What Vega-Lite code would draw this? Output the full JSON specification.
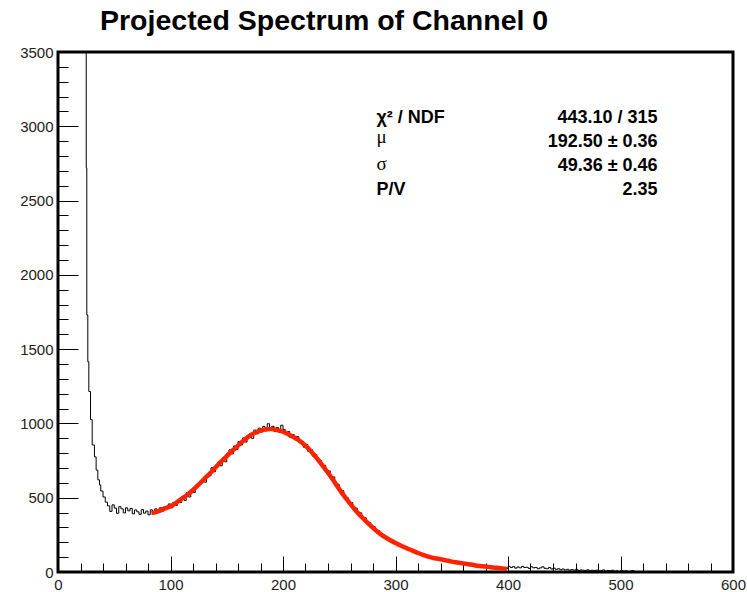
{
  "$schema": "https://vega.github.io/schema/vega-lite/v6.json",
  "width": 675,
  "height": 520,
  "autosize": {"type": "none"},
  "padding": {"left": 58, "top": 52, "right": 14, "bottom": 20},
  "background": "white",
  "config": {
    "view": {"stroke": "black", "strokeWidth": 3},
    "font": "Liberation Sans",
    "axis": {"grid": false, "domain": false, "title": null, "tickColor": "black", "tickWidth": 1, "labelFont": "Liberation Sans", "labelFontSize": 15, "labelColor": "#222", "format": "d"}
  },
  "title": {
    "text": "Projected Spectrum of Channel 0",
    "anchor": "start",
    "frame": "group",
    "dx": 42,
    "fontSize": 28.5,
    "fontWeight": "bold",
    "font": "Liberation Sans",
    "color": "black",
    "offset": 10
  },
  "datasets": {
    "hist": [
      {"x": 0, "c": 5000}, {"x": 25.1, "c": 2720}, {"x": 25.6, "c": 1730},
      {"x": 26.5, "c": 1415}, {"x": 27.4, "c": 1215}, {"x": 28.9, "c": 1025}, {"x": 30.4, "c": 855},
      {"x": 32.4, "c": 775}, {"x": 33.9, "c": 686}, {"x": 35.4, "c": 620}, {"x": 36.9, "c": 586},
      {"x": 38, "c": 545}, {"x": 40, "c": 505}, {"x": 42, "c": 470}, {"x": 44, "c": 445},
      {"x": 46, "c": 408}, {"x": 48, "c": 452}, {"x": 50, "c": 430}, {"x": 52, "c": 395},
      {"x": 54, "c": 440}, {"x": 56, "c": 425}, {"x": 58, "c": 398}, {"x": 60, "c": 432},
      {"x": 62, "c": 412}, {"x": 64, "c": 428}, {"x": 66, "c": 392}, {"x": 68, "c": 418},
      {"x": 70, "c": 405}, {"x": 72, "c": 388}, {"x": 74, "c": 420}, {"x": 76, "c": 396},
      {"x": 78, "c": 410}, {"x": 80, "c": 385}, {"x": 82, "c": 418}, {"x": 84, "c": 400},
      {"x": 86, "c": 425}, {"x": 88, "c": 405}, {"x": 90, "c": 432}, {"x": 92, "c": 410},
      {"x": 94, "c": 440}, {"x": 96, "c": 425}, {"x": 98, "c": 458}, {"x": 100, "c": 432},
      {"x": 102, "c": 468}, {"x": 104, "c": 448}, {"x": 106, "c": 485}, {"x": 108, "c": 468},
      {"x": 110, "c": 508}, {"x": 112, "c": 482}, {"x": 114, "c": 535}, {"x": 116, "c": 505},
      {"x": 118, "c": 552}, {"x": 120, "c": 535}, {"x": 122, "c": 580}, {"x": 124, "c": 585},
      {"x": 126, "c": 608}, {"x": 128, "c": 612}, {"x": 130, "c": 605}, {"x": 132, "c": 655},
      {"x": 134, "c": 648}, {"x": 136, "c": 702}, {"x": 138, "c": 675}, {"x": 140, "c": 720},
      {"x": 142, "c": 740}, {"x": 144, "c": 715}, {"x": 146, "c": 768}, {"x": 148, "c": 742},
      {"x": 150, "c": 798}, {"x": 152, "c": 822}, {"x": 154, "c": 795}, {"x": 156, "c": 848},
      {"x": 158, "c": 825}, {"x": 160, "c": 878}, {"x": 162, "c": 855}, {"x": 164, "c": 902},
      {"x": 166, "c": 875}, {"x": 168, "c": 918}, {"x": 170, "c": 930}, {"x": 172, "c": 900},
      {"x": 174, "c": 955}, {"x": 176, "c": 930}, {"x": 178, "c": 968}, {"x": 180, "c": 942},
      {"x": 182, "c": 980}, {"x": 184, "c": 950}, {"x": 186, "c": 998}, {"x": 188, "c": 958},
      {"x": 190, "c": 980}, {"x": 192, "c": 945}, {"x": 194, "c": 972}, {"x": 196, "c": 940},
      {"x": 198, "c": 988}, {"x": 200, "c": 958}, {"x": 202, "c": 925}, {"x": 204, "c": 945},
      {"x": 206, "c": 905}, {"x": 208, "c": 925}, {"x": 210, "c": 890}, {"x": 212, "c": 912},
      {"x": 214, "c": 872}, {"x": 216, "c": 880}, {"x": 218, "c": 840}, {"x": 220, "c": 858},
      {"x": 222, "c": 812}, {"x": 224, "c": 825}, {"x": 226, "c": 780}, {"x": 228, "c": 792},
      {"x": 230, "c": 748}, {"x": 232, "c": 752}, {"x": 234, "c": 715}, {"x": 236, "c": 718},
      {"x": 238, "c": 675}, {"x": 240, "c": 680}, {"x": 242, "c": 635}, {"x": 244, "c": 640},
      {"x": 246, "c": 595}, {"x": 248, "c": 590}, {"x": 250, "c": 548}, {"x": 252, "c": 548},
      {"x": 254, "c": 505}, {"x": 256, "c": 500}, {"x": 258, "c": 465}, {"x": 260, "c": 468},
      {"x": 262, "c": 425}, {"x": 264, "c": 430}, {"x": 266, "c": 392}, {"x": 268, "c": 398},
      {"x": 270, "c": 360}, {"x": 272, "c": 365}, {"x": 274, "c": 330}, {"x": 276, "c": 332},
      {"x": 278, "c": 300}, {"x": 280, "c": 305}, {"x": 282, "c": 272}, {"x": 284, "c": 278},
      {"x": 286, "c": 250}, {"x": 288, "c": 252}, {"x": 290, "c": 228}, {"x": 292, "c": 232},
      {"x": 294, "c": 208}, {"x": 296, "c": 215}, {"x": 298, "c": 192}, {"x": 300, "c": 198},
      {"x": 302, "c": 178}, {"x": 304, "c": 182}, {"x": 306, "c": 165}, {"x": 308, "c": 168},
      {"x": 310, "c": 150}, {"x": 312, "c": 156}, {"x": 314, "c": 138}, {"x": 316, "c": 142},
      {"x": 318, "c": 124}, {"x": 320, "c": 130}, {"x": 322, "c": 114}, {"x": 324, "c": 118},
      {"x": 326, "c": 104}, {"x": 328, "c": 106}, {"x": 330, "c": 92}, {"x": 332, "c": 100},
      {"x": 334, "c": 86}, {"x": 336, "c": 94}, {"x": 338, "c": 80}, {"x": 340, "c": 88},
      {"x": 342, "c": 76}, {"x": 344, "c": 82}, {"x": 346, "c": 70}, {"x": 348, "c": 76},
      {"x": 350, "c": 64}, {"x": 352, "c": 70}, {"x": 354, "c": 60}, {"x": 356, "c": 65},
      {"x": 358, "c": 54}, {"x": 360, "c": 62}, {"x": 362, "c": 50}, {"x": 364, "c": 56},
      {"x": 366, "c": 45}, {"x": 368, "c": 51}, {"x": 370, "c": 41}, {"x": 372, "c": 47},
      {"x": 374, "c": 37}, {"x": 376, "c": 43}, {"x": 378, "c": 34}, {"x": 380, "c": 39},
      {"x": 382, "c": 30}, {"x": 384, "c": 35}, {"x": 386, "c": 28}, {"x": 388, "c": 32},
      {"x": 390, "c": 25}, {"x": 392, "c": 30}, {"x": 394, "c": 23}, {"x": 396, "c": 28},
      {"x": 398, "c": 22}, {"x": 400, "c": 38}, {"x": 402, "c": 30}, {"x": 404, "c": 36},
      {"x": 406, "c": 26}, {"x": 408, "c": 34}, {"x": 410, "c": 28}, {"x": 412, "c": 38},
      {"x": 414, "c": 30}, {"x": 416, "c": 32}, {"x": 418, "c": 24}, {"x": 420, "c": 35},
      {"x": 422, "c": 28}, {"x": 424, "c": 30}, {"x": 426, "c": 22}, {"x": 428, "c": 28},
      {"x": 430, "c": 35}, {"x": 432, "c": 25}, {"x": 434, "c": 22}, {"x": 436, "c": 30},
      {"x": 438, "c": 20}, {"x": 440, "c": 26}, {"x": 442, "c": 18}, {"x": 444, "c": 22},
      {"x": 446, "c": 15}, {"x": 448, "c": 20}, {"x": 450, "c": 14}, {"x": 452, "c": 18},
      {"x": 454, "c": 12}, {"x": 456, "c": 16}, {"x": 458, "c": 12}, {"x": 460, "c": 18},
      {"x": 462, "c": 10}, {"x": 464, "c": 14}, {"x": 466, "c": 12}, {"x": 468, "c": 10},
      {"x": 470, "c": 15}, {"x": 472, "c": 8}, {"x": 474, "c": 12}, {"x": 476, "c": 10},
      {"x": 478, "c": 12}, {"x": 480, "c": 8}, {"x": 482, "c": 10}, {"x": 484, "c": 14},
      {"x": 486, "c": 6}, {"x": 488, "c": 10}, {"x": 490, "c": 8}, {"x": 492, "c": 12},
      {"x": 494, "c": 6}, {"x": 496, "c": 8}, {"x": 498, "c": 4}, {"x": 500, "c": 10},
      {"x": 502, "c": 6}, {"x": 504, "c": 8}, {"x": 506, "c": 4}, {"x": 508, "c": 6},
      {"x": 510, "c": 10}, {"x": 512, "c": 4}, {"x": 514, "c": 2}, {"x": 516, "c": 0},
      {"x": 600, "c": 0}
    ],
    "fit": [
      {"x": 83, "f": 397}, {"x": 85, "f": 400}, {"x": 90, "f": 412}, {"x": 95, "f": 428},
      {"x": 100, "f": 443}, {"x": 105, "f": 466}, {"x": 110, "f": 493}, {"x": 115, "f": 520},
      {"x": 120, "f": 552}, {"x": 125, "f": 588}, {"x": 130, "f": 626}, {"x": 135, "f": 663},
      {"x": 140, "f": 703}, {"x": 145, "f": 743}, {"x": 150, "f": 780}, {"x": 155, "f": 816},
      {"x": 160, "f": 851}, {"x": 165, "f": 885}, {"x": 170, "f": 915}, {"x": 175, "f": 937},
      {"x": 180, "f": 952}, {"x": 185, "f": 960}, {"x": 190, "f": 962}, {"x": 195, "f": 955},
      {"x": 200, "f": 944}, {"x": 205, "f": 926}, {"x": 210, "f": 906}, {"x": 215, "f": 882},
      {"x": 220, "f": 850}, {"x": 225, "f": 811}, {"x": 230, "f": 766}, {"x": 235, "f": 718},
      {"x": 240, "f": 668}, {"x": 245, "f": 614}, {"x": 250, "f": 558}, {"x": 255, "f": 505},
      {"x": 260, "f": 457}, {"x": 265, "f": 410}, {"x": 270, "f": 370}, {"x": 275, "f": 332},
      {"x": 280, "f": 297}, {"x": 285, "f": 265}, {"x": 290, "f": 238}, {"x": 295, "f": 215},
      {"x": 300, "f": 195}, {"x": 305, "f": 177}, {"x": 310, "f": 160}, {"x": 315, "f": 144},
      {"x": 320, "f": 128}, {"x": 325, "f": 114}, {"x": 330, "f": 102}, {"x": 335, "f": 93},
      {"x": 340, "f": 86}, {"x": 345, "f": 78}, {"x": 350, "f": 70}, {"x": 355, "f": 64},
      {"x": 360, "f": 58}, {"x": 365, "f": 52}, {"x": 370, "f": 46}, {"x": 375, "f": 41},
      {"x": 380, "f": 37}, {"x": 385, "f": 32}, {"x": 390, "f": 28}, {"x": 395, "f": 24},
      {"x": 399, "f": 21}
    ],
    "statsVals": [
      {"xr": 533, "yv": 3056, "t": "443.10 / 315"},
      {"xr": 533, "yv": 2894, "t": "192.50 ± 0.36"},
      {"xr": 533, "yv": 2733, "t": "49.36 ± 0.46"},
      {"xr": 533, "yv": 2571, "t": "2.35"}
    ],
    "statsBold": [
      {"xl": 283, "yv": 3056, "t": "χ² / NDF"},
      {"xl": 283, "yv": 2571, "t": "P/V"}
    ],
    "statsSym": [
      {"xl": 283, "yv": 2925, "t": "μ"},
      {"xl": 283, "yv": 2745, "t": "σ"}
    ]
  },
  "layer": [
    {
      "data": {"name": "hist"},
      "mark": {"type": "line", "interpolate": "step-after", "color": "black", "strokeWidth": 1, "clip": true},
      "encoding": {
        "x": {"field": "x", "type": "quantitative", "scale": {"domain": [0, 600], "nice": false, "zero": false},
          "axis": {"orient": "bottom", "values": [0, 100, 200, 300, 400, 500, 600], "ticks": false, "tickSize": 0, "labelPadding": 5, "labelFlush": false}},
        "y": {"field": "c", "type": "quantitative", "scale": {"domain": [0, 3500], "nice": false, "zero": true},
          "axis": {"orient": "left", "values": [0, 500, 1000, 1500, 2000, 2500, 3000, 3500], "ticks": false, "tickSize": 0, "labelPadding": 5, "labelFlush": false}}
      }
    },
    {
      "data": {"name": "fit"},
      "mark": {"type": "line", "interpolate": "monotone", "color": "#ff2200", "strokeWidth": 4.5, "clip": true},
      "encoding": {
        "x": {"field": "x", "type": "quantitative",
          "axis": {"orient": "bottom", "values": [0, 100, 200, 300, 400, 500, 600], "labels": false, "tickSize": -16}},
        "y": {"field": "f", "type": "quantitative",
          "axis": {"orient": "left", "values": [0, 500, 1000, 1500, 2000, 2500, 3000, 3500], "labels": false, "tickSize": -20}}
      }
    },
    {
      "data": {"name": "statsVals"},
      "mark": {"type": "text", "align": "right", "baseline": "middle", "fontSize": 18, "fontWeight": "bold", "font": "Liberation Sans", "color": "black"},
      "encoding": {
        "x": {"field": "xr", "type": "quantitative",
          "axis": {"orient": "bottom", "values": [20, 40, 60, 80, 120, 140, 160, 180, 220, 240, 260, 280, 320, 340, 360, 380, 420, 440, 460, 480, 520, 540, 560, 580], "labels": false, "tickSize": -9}},
        "y": {"field": "yv", "type": "quantitative",
          "axis": {"orient": "left", "values": [100, 200, 300, 400, 600, 700, 800, 900, 1100, 1200, 1300, 1400, 1600, 1700, 1800, 1900, 2100, 2200, 2300, 2400, 2600, 2700, 2800, 2900, 3100, 3200, 3300, 3400], "labels": false, "tickSize": -10}},
        "text": {"field": "t"}
      }
    },
    {
      "data": {"name": "statsBold"},
      "mark": {"type": "text", "align": "left", "baseline": "middle", "fontSize": 18, "fontWeight": "bold", "font": "Liberation Sans", "color": "black"},
      "encoding": {
        "x": {"field": "xl", "type": "quantitative", "axis": null},
        "y": {"field": "yv", "type": "quantitative", "axis": null},
        "text": {"field": "t"}
      }
    },
    {
      "data": {"name": "statsSym"},
      "mark": {"type": "text", "align": "left", "baseline": "middle", "fontSize": 19, "font": "Liberation Serif", "color": "black"},
      "encoding": {
        "x": {"field": "xl", "type": "quantitative", "axis": null},
        "y": {"field": "yv", "type": "quantitative", "axis": null},
        "text": {"field": "t"}
      }
    }
  ],
  "resolve": {"axis": {"x": "independent", "y": "independent"}}
}
